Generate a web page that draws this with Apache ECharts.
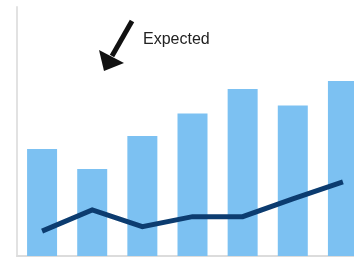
<!DOCTYPE html>
<html>
<head>
<meta charset="utf-8">
<script src="https://cdn.jsdelivr.net/npm/echarts@6/dist/echarts.min.js"></script>
<style>
  html, body { margin: 0; padding: 0; background: #fff; }
  #chart { width: 354px; height: 258px; }
</style>
</head>
<body>
<div id="chart"></div>
<script>
const categories = ['1', '2', '3', '4', '5', '6', '7'];
const actual = [43, 34.9, 48.2, 57.2, 67.1, 60.4, 70.3];
const expected = [10, 18.5, 11.8, 15.8, 15.8, 22.9, 29.8];
const noteText = 'Expected';

let option = {
  animation: false,
  grid: { left: 17, top: 7, bottom: 2, right: -14, outerBoundsMode: 'none', containLabel: false },
  xAxis: {
    type: 'category',
    data: categories,
    axisLine: { lineStyle: { color: '#dcdcdc', width: 2 } },
    axisTick: { show: false },
    axisLabel: { show: false }
  },
  yAxis: {
    type: 'value',
    min: 0,
    max: 100,
    axisLine: { show: true, lineStyle: { color: '#e2e2e2', width: 2 } },
    axisTick: { show: false },
    axisLabel: { show: false },
    splitLine: { show: false }
  },
  series: [
    {
      name: 'Actual',
      type: 'bar',
      data: actual,
      barWidth: 30,
      itemStyle: { color: '#7cc1f2' }
    },
    {
      name: 'Expected',
      type: 'line',
      data: expected,
      symbol: 'none',
      lineStyle: { color: '#0c3c70', width: 5, join: 'miter' },
      itemStyle: { color: '#0c3c70' },
      z: 3
    }
  ],
  graphic: [
    {
      type: 'line',
      shape: { x1: 132, y1: 21, x2: 112, y2: 56 },
      style: { stroke: '#111', lineWidth: 5 }
    },
    {
      type: 'polygon',
      shape: { points: [[104, 71], [99, 50], [124, 63]] },
      style: { fill: '#111' }
    },
    {
      type: 'text',
      left: 143,
      top: 32,
      style: {
        text: noteText,
        fill: '#222',
        font: '16px "Liberation Sans", Arial, sans-serif'
      }
    }
  ]
};

const myChart = echarts.init(document.getElementById('chart'));
myChart.setOption(option);
</script>
</body>
</html>
